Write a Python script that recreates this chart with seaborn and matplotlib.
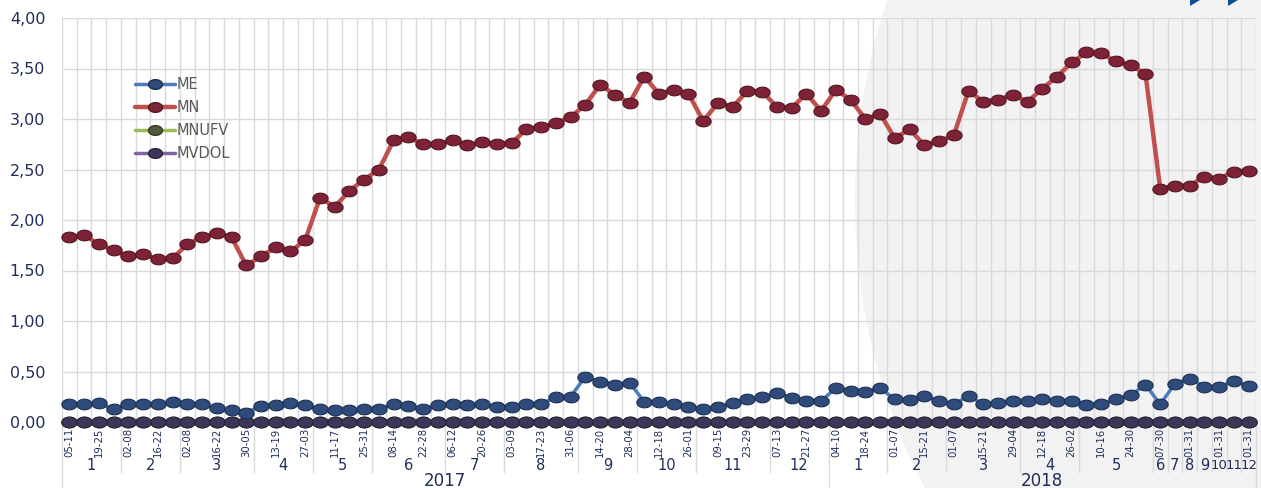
import numpy as np
import pandas as pd
import matplotlib
matplotlib.use("Agg")
import matplotlib.pyplot as plt
import seaborn as sns
from matplotlib.path import Path
from matplotlib.patches import Ellipse, Polygon
from matplotlib.lines import Line2D

# ---------------- data ----------------
week_labels = [
    "05-11", "", "19-25", "", "02-08", "", "16-22", "", "02-08", "", "16-22", "", "30-05",
    "", "13-19", "", "27-03", "", "11-17", "", "25-31", "", "08-14", "", "22-28", "",
    "06-12", "", "20-26", "", "03-09", "", "17-23", "", "31-06", "", "14-20", "", "28-04",
    "", "12-18", "", "26-01", "", "09-15", "", "23-29", "", "07-13", "", "21-27", "",
    "04-10", "", "18-24", "", "01-07", "", "15-21", "", "01-07", "", "15-21", "", "29-04",
    "", "12-18", "", "26-02", "", "10-16", "", "24-30", "", "07-30", "", "01-31", "",
    "01-31", "", "01-31",
]
months_2017 = ["1", "2", "3", "4", "5", "6", "7", "8", "9", "10", "11", "12"]
weeks_per_month_2017 = [4, 4, 5, 4, 4, 5, 4, 5, 4, 4, 5, 4]
months_2018 = ["1", "2", "3", "4", "5", "6", "7", "8", "9", "10", "11", "12"]
weeks_per_month_2018 = [4, 4, 5, 4, 5, 1, 1, 1, 1, 1, 1, 1]
years = ["2017", "2018"]

me = [0.175, 0.175, 0.185, 0.125, 0.175, 0.175, 0.175, 0.20, 0.18, 0.175,
      0.135, 0.115, 0.09, 0.16, 0.17, 0.185, 0.165, 0.125, 0.115, 0.115,
      0.125, 0.13, 0.175, 0.16, 0.13, 0.165, 0.18, 0.17, 0.18, 0.15,
      0.15, 0.175, 0.175, 0.25, 0.25, 0.45, 0.40, 0.37, 0.39, 0.20,
      0.20, 0.175, 0.15, 0.13, 0.15, 0.185, 0.225, 0.245, 0.29, 0.24,
      0.21, 0.21, 0.335, 0.31, 0.30, 0.335, 0.225, 0.215, 0.255, 0.21,
      0.175, 0.26, 0.175, 0.185, 0.21, 0.21, 0.225, 0.21, 0.21, 0.17,
      0.175, 0.225, 0.265, 0.37, 0.175, 0.38, 0.43, 0.35, 0.35, 0.405,
      0.355]
mn = [1.83, 1.85, 1.76, 1.70, 1.64, 1.66, 1.61, 1.62, 1.76, 1.83,
      1.87, 1.83, 1.55, 1.64, 1.73, 1.69, 1.80, 2.22, 2.13, 2.29,
      2.40, 2.50, 2.79, 2.82, 2.75, 2.75, 2.79, 2.74, 2.77, 2.75,
      2.76, 2.90, 2.92, 2.96, 3.02, 3.14, 3.34, 3.24, 3.16, 3.42,
      3.25, 3.29, 3.25, 2.98, 3.16, 3.12, 3.28, 3.27, 3.12, 3.11,
      3.25, 3.08, 3.29, 3.19, 3.00, 3.05, 2.81, 2.90, 2.74, 2.78,
      2.84, 3.28, 3.17, 3.19, 3.24, 3.17, 3.30, 3.42, 3.56, 3.66,
      3.65, 3.57, 3.53, 3.45, 2.31, 2.34, 2.34, 2.43, 2.41, 2.48,
      2.49]
mnufv = [0.0, 0.0, 0.0, 0.0, 0.0, 0.0, 0.0, 0.0, 0.0, 0.0,
         0.0, 0.0, 0.0, 0.0, 0.0, 0.0, 0.0, 0.0, 0.0, 0.0,
         0.0, 0.0, 0.0, 0.0, 0.0, 0.0, 0.0, 0.0, 0.0, 0.0,
         0.0, 0.0, 0.0, 0.0, 0.0, 0.0, 0.0, 0.0, 0.0, 0.0,
         0.0, 0.0, 0.0, 0.0, 0.0, 0.0, 0.0, 0.0, 0.0, 0.0,
         0.0, 0.0, 0.0, 0.0, 0.0, 0.0, 0.0, 0.0, 0.0, 0.0,
         0.0, 0.0, 0.0, 0.0, 0.0, 0.0, 0.0, 0.0, 0.0, 0.0,
         0.0, 0.0, 0.0, 0.0, 0.0, 0.0, 0.0, 0.0, 0.0, 0.0,
         0.0]
mvdol = [0.0, 0.0, 0.0, 0.0, 0.0, 0.0, 0.0, 0.0, 0.0, 0.0,
         0.0, 0.0, 0.0, 0.0, 0.0, 0.0, 0.0, 0.0, 0.0, 0.0,
         0.0, 0.0, 0.0, 0.0, 0.0, 0.0, 0.0, 0.0, 0.0, 0.0,
         0.0, 0.0, 0.0, 0.0, 0.0, 0.0, 0.0, 0.0, 0.0, 0.0,
         0.0, 0.0, 0.0, 0.0, 0.0, 0.0, 0.0, 0.0, 0.0, 0.0,
         0.0, 0.0, 0.0, 0.0, 0.0, 0.0, 0.0, 0.0, 0.0, 0.0,
         0.0, 0.0, 0.0, 0.0, 0.0, 0.0, 0.0, 0.0, 0.0, 0.0,
         0.0, 0.0, 0.0, 0.0, 0.0, 0.0, 0.0, 0.0, 0.0, 0.0,
         0.0]

# ---------------- style ----------------
sns.set_theme(style="white")
plt.rcParams["font.family"] = ["DejaVu Sans"]
NAVY = "#1F2D5A"
GRID = "#D9D9D9"

W, H = 1261, 488
fig = plt.figure(figsize=(W / 100, H / 100), dpi=100, facecolor="white")

# decorative light-grey disc on the right (behind everything)
fig.patches.append(Ellipse((1250 / W, 1 - 200 / H), 2 * 395 / W, 2 * 507 / H,
                           transform=fig.transFigure, facecolor="#F2F2F2",
                           edgecolor="none", zorder=-10))
# small blue marks top-right
for x0 in (1190, 1228):
    fig.patches.append(Polygon([[x0 / W, 1 - 6 / H], [(x0 + 10) / W, 1.0],
                                [x0 / W, 1.0]], closed=True,
                               transform=fig.transFigure, facecolor="#0B4C9C",
                               edgecolor="none", zorder=-5))

ax = fig.add_axes([62 / W, 66 / H, 1194 / W, 404 / H])
ax.set_zorder(5)
ax.set_facecolor("none")
ax.patch.set_alpha(0)

n = len(mn)
df = pd.DataFrame({"idx": np.arange(n), "ME": me, "MN": mn,
                   "MNUFV": mnufv, "MVDOL": mvdol})

theta = np.linspace(0, 2 * np.pi, 41)
ell_marker = Path(np.column_stack([np.cos(theta), 0.7 * np.sin(theta)]))

styles = {
    "MNUFV": dict(line="#9BBB59", face="#4F5B3A", edge="#333D25", lw=2.5, z=3),
    "MVDOL": dict(line="#8064A2", face="#3E3658", edge="#29233C", lw=2.5, z=4),
    "ME": dict(line="#4A7EBB", face="#2F4B7C", edge="#1C2E50", lw=2.5, z=5),
    "MN": dict(line="#C0504D", face="#7E2237", edge="#521522", lw=3.2, z=6),
}
for name in ["MNUFV", "MVDOL", "ME", "MN"]:
    s = styles[name]
    sns.lineplot(data=df, x="idx", y=name, ax=ax, color=s["line"], lw=s["lw"],
                 marker=ell_marker, markersize=11, markerfacecolor=s["face"],
                 markeredgecolor=s["edge"], markeredgewidth=0.8,
                 zorder=s["z"], clip_on=False, legend=False)

ax.set_xlim(-0.5, n - 0.5)
ax.set_ylim(0, 4)
ax.set_xlabel("")
ax.set_ylabel("")

yt = np.arange(0, 4.01, 0.5)
ax.set_yticks(yt)
ax.set_yticklabels([f"{v:.2f}".replace(".", ",") for v in yt],
                   color=NAVY, fontsize=11.5)
ax.set_xticks(np.arange(n))
ax.set_xticklabels(week_labels, rotation=90, fontsize=7.3, color=NAVY)
ax.set_xticks(np.arange(-0.5, n, 1), minor=True)
ax.tick_params(axis="y", length=0, pad=12)
ax.tick_params(axis="x", which="both", length=0, pad=4)

ax.xaxis.grid(False, which="major")
ax.xaxis.grid(True, which="minor", color=GRID, lw=1)
ax.yaxis.grid(True, which="major", color=GRID, lw=1)
ax.set_axisbelow(True)
for sp in ax.spines.values():
    sp.set_visible(False)

# multi-level category axis
trans = ax.get_xaxis_transform()
start = 0
for months, counts, year in [(months_2017, weeks_per_month_2017, years[0]),
                             (months_2018, weeks_per_month_2018, years[1])]:
    ystart = start
    ax.plot([start - 0.5, start - 0.5], [0, -0.165], transform=trans,
            color=GRID, lw=1, clip_on=False)
    for m, c in zip(months, counts):
        if start != ystart:
            ax.plot([start - 0.5, start - 0.5], [0, -0.124], transform=trans,
                    color=GRID, lw=1, clip_on=False)
        ax.text(start - 0.5 + c / 2, -0.108, m, transform=trans, ha="center",
                va="center", fontsize=9.5 if len(m) > 1 and c == 1 else 10.5,
                color=NAVY)
        start += c
    ax.text((ystart + start) / 2 - 0.5, -0.146, year, transform=trans,
            ha="center", va="center", fontsize=12, color=NAVY)
ax.plot([start - 0.5, start - 0.5], [0, -0.165], transform=trans,
        color=GRID, lw=1, clip_on=False)

# legend
handles = [Line2D([], [], color=styles[k]["line"], lw=styles[k]["lw"],
                  marker=ell_marker, markersize=10,
                  markerfacecolor=styles[k]["face"],
                  markeredgecolor=styles[k]["edge"])
           for k in ["ME", "MN", "MNUFV", "MVDOL"]]
leg = ax.legend(handles, ["ME", "MN", "MNUFV", "MVDOL"], loc="upper left",
                bbox_to_anchor=(128 / W, 1 - 70 / H),
                bbox_transform=fig.transFigure, frameon=False, fontsize=10.5,
                handlelength=2.7, handletextpad=0.1, labelspacing=0.55,
                borderpad=0)
for t in leg.get_texts():
    t.set_color("#595959")

fig.savefig("out.png", dpi=100, facecolor="white")
